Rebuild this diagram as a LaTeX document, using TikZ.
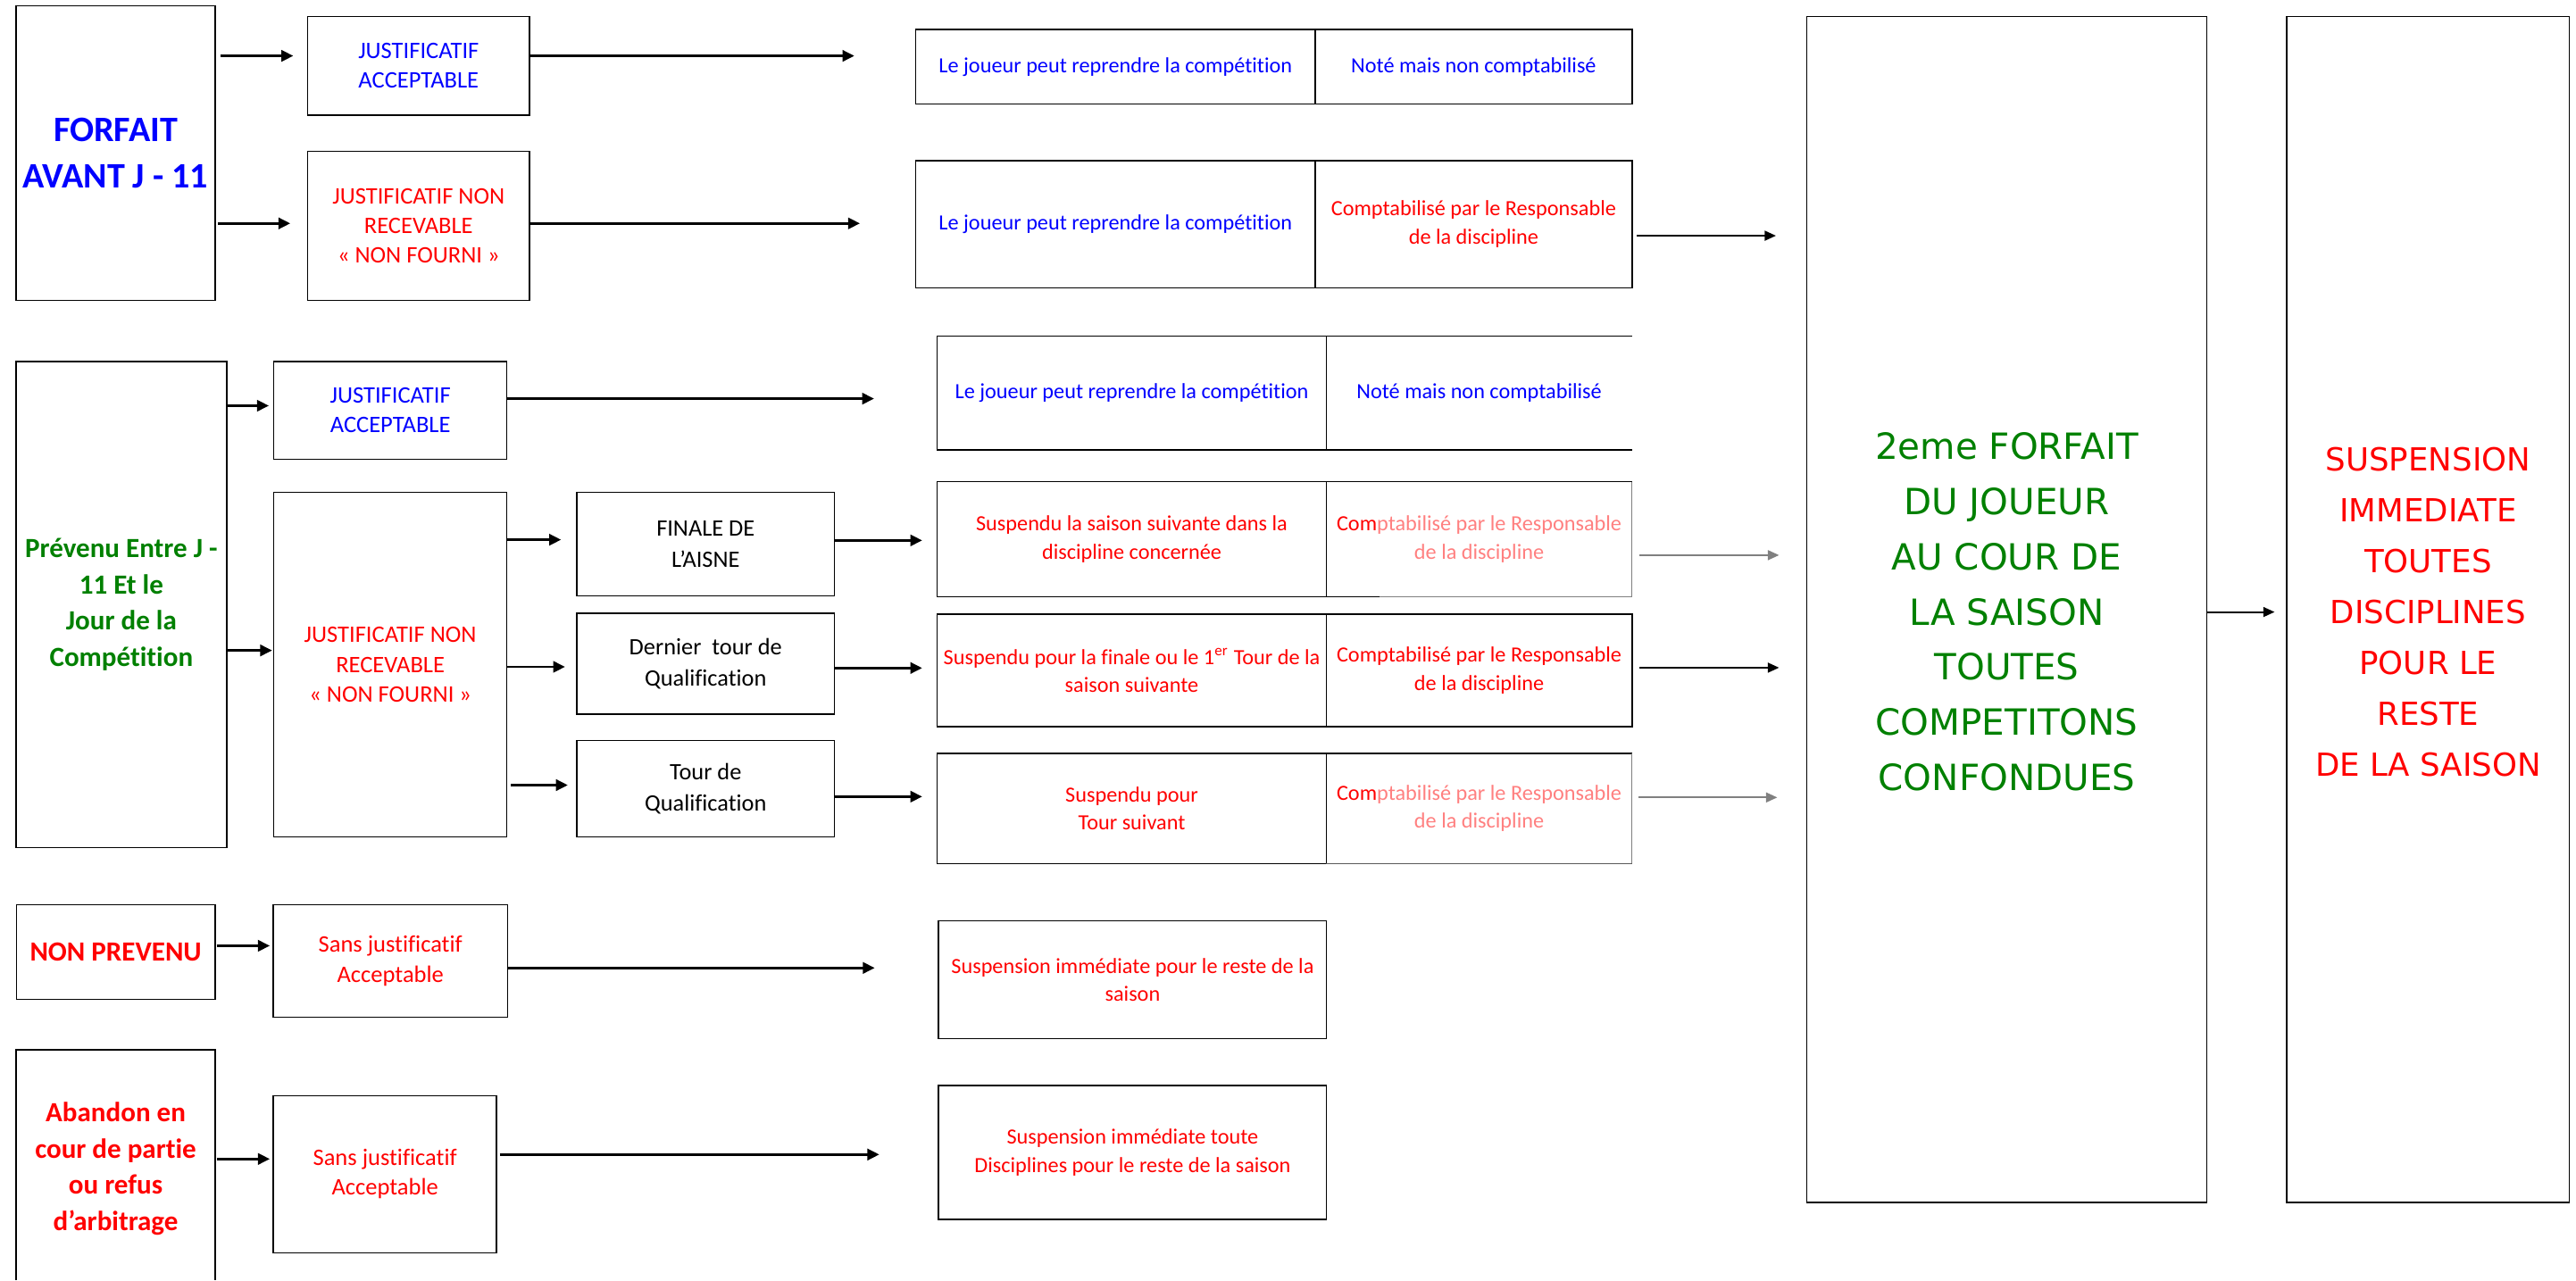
\documentclass[tikz,border=0pt]{standalone}
\usepackage{fontspec}
\setmainfont{Carlito}[Ligatures={NoCommon}]
\newfontfamily\widefont{DejaVu Sans}
\usetikzlibrary{arrows.meta,fit}
\definecolor{myblue}{RGB}{0,0,255}
\definecolor{myred}{RGB}{255,0,0}
\definecolor{mygreen}{RGB}{0,128,0}
\definecolor{mypink}{RGB}{255,128,128}
\definecolor{mygray}{RGB}{128,128,128}
\tikzset{
  box/.style={draw=black, line width=0.45pt, inner sep=0pt, outer sep=0pt},
  nobox/.style={inner sep=0pt, outer sep=0pt},
  lbl/.style={inner sep=0pt, outer sep=0pt, align=center},
  border/.style={line width=0.45pt},
  arr/.style={-{Triangle[length=4.1pt,width=3.9pt]}, line width=0.85pt},
  thinarr/.style={-{Triangle[length=3.9pt,width=3.4pt]}, line width=0.6pt},
  ctxt/.style={font=\fontsize{7.5}{9.8}\selectfont},
  btxt/.style={font=\fontsize{8.2}{10.3}\selectfont},
  dtxt/.style={font=\fontsize{8.15}{10.6}\selectfont},
  titleA/.style={font=\bfseries\fontsize{12.4}{15.9}\selectfont},
  titleB/.style={font=\bfseries\fontsize{9.6}{12.5}\selectfont},
  bigE/.style={font=\widefont\fontsize{12.5}{19.1}\selectfont},
  bigF/.style={font=\widefont\fontsize{11}{17.6}\selectfont},
}
\begin{document}
\begin{tikzpicture}[x=0.2mm,y=-0.2mm]
\path[use as bounding box, fill=white] (0,0) rectangle (1568,779.4);

% ---------- Row 1 ----------
\node[box, fit={(9.7,3.6)(131,183)}] (a1) {};
\node[lbl, titleA, text=myblue] (a1t) at (a1.center) {FORFAIT\\AVANT J - 11};
\node[box, fit={(187.2,10)(322.4,70)}] (b1) {};
\node[lbl, btxt, text=myblue] (b1t) at (b1.center) {JUSTIFICATIF\\ACCEPTABLE};
\node[box, fit={(187.2,92)(322.4,183)}] (b2) {};
\node[lbl, btxt, text=myred] (b2t) at (b2.center) {JUSTIFICATIF NON\\RECEVABLE\\« NON FOURNI »};
\node[box, fit={(557.4,18)(800.6,63.4)}] (c1l) {};
\node[lbl, ctxt, text=myblue] (c1lt) at (c1l.center) {Le joueur peut reprendre la compétition};
\node[box, fit={(800.6,18)(993.4,63.4)}] (c1r) {};
\node[lbl, ctxt, text=myblue] (c1rt) at (c1r.center) {Noté mais non comptabilisé};
\node[box, fit={(557.4,97.8)(800.6,175.4)}] (c2l) {};
\node[lbl, ctxt, text=myblue] (c2lt) at (c2l.center) {Le joueur peut reprendre la compétition};
\node[box, fit={(800.6,97.8)(993.4,175.4)}] (c2r) {};
\node[lbl, ctxt, text=myred] (c2rt) at (c2r.center) {Comptabilisé par le Responsable\\de la discipline};

% ---------- Row 2 ----------
\node[box, fit={(9.7,220)(138,516)}] (a2) {};
\node[lbl, titleB, text=mygreen] (a2t) at (a2.center) {Prévenu Entre J -\\11 Et le\\Jour de la\\Compétition};
\node[box, fit={(166.7,220)(308.5,279.7)}] (b3) {};
\node[lbl, btxt, text=myblue] (b3t) at (b3.center) {JUSTIFICATIF\\ACCEPTABLE};
\node[box, fit={(166.7,299.7)(308.5,509.6)}] (b4) {};
\node[lbl, btxt, text=myred] (b4t) at (b4.center) {JUSTIFICATIF NON\\RECEVABLE\\« NON FOURNI »};
\node[box, fit={(351,299.8)(508,362.9)}] (d1) {};
\node[lbl, dtxt] (d1t) at (d1.center) {FINALE DE\\L’AISNE};
\node[box, fit={(351,373.4)(508,434.8)}] (d2) {};
\node[lbl, dtxt] (d2t) at (d2.center) {Dernier\ \ tour de\\Qualification};
\node[box, fit={(351,450.9)(508,509.6)}] (d3) {};
\node[lbl, dtxt] (d3t) at (d3.center) {Tour de\\Qualification};

\node[box, fit={(570.5,204.7)(807.3,274)}] (c3l) {};
\node[lbl, ctxt, text=myblue] (c3lt) at (c3l.center) {Le joueur peut reprendre la compétition};
\node[nobox, fit={(807.3,204.7)(993.4,274)}] (c3r) {};
\node[lbl, ctxt, text=myblue] (c3rt) at (c3r.center) {Noté mais non comptabilisé};
\draw[border] (c3r.north west) -- (c3r.north east);
\draw[border] (c3r.south west) -- (c3r.south east);

\node[box, fit={(570.5,293.3)(807.3,363.3)}] (c4l) {};
\node[lbl, ctxt, text=myred] (c4lt) at (c4l.center) {Suspendu la saison suivante dans la\\discipline concernée};
\node[nobox, fit={(807.3,293.3)(993.4,363.3)}] (c4r) {};
\node[lbl, ctxt, text=mypink] (c4rt) at (c4r.center) {{\color{myred}Com}ptabilisé par le Responsable\\de la discipline};
\draw[border] (c4r.north west) -- (c4r.north east);
\draw[line width=0.3pt, mygray] (c4r.north east) -- (c4r.south east);
\draw[border] (c4r.south west) -- (839.9,363.3);
\draw[border, mygray] (839.9,363.3) -- (c4r.south east);

\node[box, fit={(570.5,374)(807.3,442.4)}] (c5l) {};
\node[lbl, ctxt, text=myred] (c5lt) at (c5l.center) {Suspendu pour la finale ou le 1\textsuperscript{er} Tour de la\\saison suivante};
\node[box, fit={(807.3,374)(993.4,442.4)}] (c5r) {};
\node[lbl, ctxt, text=myred] (c5rt) at (c5r.center) {Comptabilisé par le Responsable\\de la discipline};

\node[box, fit={(570.5,458.6)(807.3,525.7)}] (c6l) {};
\node[lbl, ctxt, text=myred] (c6lt) at (c6l.center) {Suspendu pour\\Tour suivant};
\node[nobox, fit={(807.3,458.6)(993.4,525.7)}] (c6r) {};
\node[lbl, ctxt, text=mypink] (c6rt) at (c6r.center) {{\color{myred}Com}ptabilisé par le Responsable\\de la discipline};
\draw[border] (c6r.north west) -- (c6r.north east);
\draw[line width=0.3pt, mygray] (c6r.north east) -- (c6r.south east);
\draw[border, black!65] (c6r.south west) -- (c6r.south east);

% ---------- Row 3 ----------
\node[box, fit={(10,550.7)(130.9,608.4)}] (a3) {};
\node[lbl, titleB, text=myred] (a3t) at (a3.center) {NON PREVENU};
\node[box, fit={(166.4,550.7)(308.9,619.3)}] (b5) {};
\node[lbl, btxt, text=myred] (b5t) at (b5.center) {Sans justificatif\\Acceptable};
\node[box, fit={(571.3,560.7)(807.5,632.3)}] (c7) {};
\node[lbl, ctxt, text=myred] (c7t) at (c7.center) {Suspension immédiate pour le reste de la\\saison};

% ---------- Row 4 ----------
\node[nobox, fit={(9.7,639.2)(131,779.4)}] (a4) {};
\draw[border] (a4.south west) -- (a4.north west) -- (a4.north east) -- (a4.south east);
\node[lbl, titleB, text=myred] (a4t) at (70.4,711.5) {Abandon en\\cour de partie\\ou refus\\d’arbitrage};
\node[box, fit={(166.4,667)(302.3,762.7)}] (b6) {};
\node[lbl, btxt, text=myred] (b6t) at (b6.center) {Sans justificatif\\Acceptable};
\node[box, fit={(571.3,661)(807.5,742.5)}] (c8) {};
\node[lbl, ctxt, text=myred] (c8t) at (c8.center) {Suspension immédiate toute\\Disciplines pour le reste de la saison};

% ---------- Right column ----------
\node[box, fit={(1099.8,10)(1343.2,732)}] (e) {};
\node[lbl, bigE, text=mygreen] (et) at ([yshift=-0.3mm]e.center) {2eme FORFAIT\\DU JOUEUR\\AU COUR DE\\LA SAISON\\TOUTES\\COMPETITONS\\CONFONDUES};
\node[box, fit={(1392,10)(1564,732)}] (f) {};
\node[lbl, bigF, text=myred] (ft) at ([yshift=-0.3mm]f.center) {SUSPENSION\\IMMEDIATE\\TOUTES\\DISCIPLINES\\POUR LE\\RESTE\\DE LA SAISON};

% ---------- arrow tips (free ends) ----------
\coordinate (t1) at (178.5,34);
\coordinate (t2) at (176.7,136);
\coordinate (t3) at (520,34);
\coordinate (t4) at (523.4,136);
\coordinate (t5) at (163.6,247);
\coordinate (t6) at (165.6,396);
\coordinate (t7) at (532,242.7);
\coordinate (t8) at (341.5,328.6);
\coordinate (t9) at (343.9,406);
\coordinate (t10) at (345.6,478);
\coordinate (t11) at (561.3,329);
\coordinate (t12) at (561.3,406.7);
\coordinate (t13) at (561.3,485);
\coordinate (t14) at (164.2,575.8);
\coordinate (t15) at (532.4,589.3);
\coordinate (t16) at (164.2,705.6);
\coordinate (t17) at (535.2,702.9);
\coordinate (u1) at (1081,143.5);
\coordinate (u2) at (1082.9,338);
\coordinate (u3) at (1082.9,406.5);
\coordinate (u4) at (1081.8,485.5);
\coordinate (u5) at (1384.5,372.6);

% ---------- connectors ----------
\draw[arr] ([xshift=0.6mm]a1.east |- t1) -- (t1);
\draw[arr] ([xshift=0.3mm]a1.east |- t2) -- (t2);
\draw[arr] (b1.east |- t3) -- (t3);
\draw[arr] (b2.east |- t4) -- (t4);
\draw[arr] (a2.east |- t5) -- (t5);
\draw[arr] (a2.east |- t6) -- (t6);
\draw[arr] (b3.east |- t7) -- (t7);
\draw[arr] (b4.east |- t8) -- (t8);
\draw[arr] (b4.east |- t9) -- (t9);
\draw[arr] ([xshift=0.5mm]b4.east |- t10) -- (t10);
\draw[arr] (d1.east |- t11) -- (t11);
\draw[arr] (d2.east |- t12) -- (t12);
\draw[arr] (d3.east |- t13) -- (t13);
\draw[arr] ([xshift=0.2mm]a3.east |- t14) -- (t14);
\draw[arr] (b5.east |- t15) -- (t15);
\draw[arr] ([xshift=0.2mm]a4.east |- t16) -- (t16);
\draw[arr] ([xshift=0.4mm]b6.east |- t17) -- (t17);
\draw[thinarr] ([xshift=0.6mm]c2r.east |- u1) -- (u1);
\draw[thinarr, mygray] ([xshift=0.9mm]c4r.east |- u2) -- (u2);
\draw[thinarr] ([xshift=0.9mm]c5r.east |- u3) -- (u3);
\draw[thinarr, mygray] ([xshift=0.8mm]c6r.east |- u4) -- (u4);
\draw[thinarr] (e.east |- u5) -- (u5);
\end{tikzpicture}
\end{document}
